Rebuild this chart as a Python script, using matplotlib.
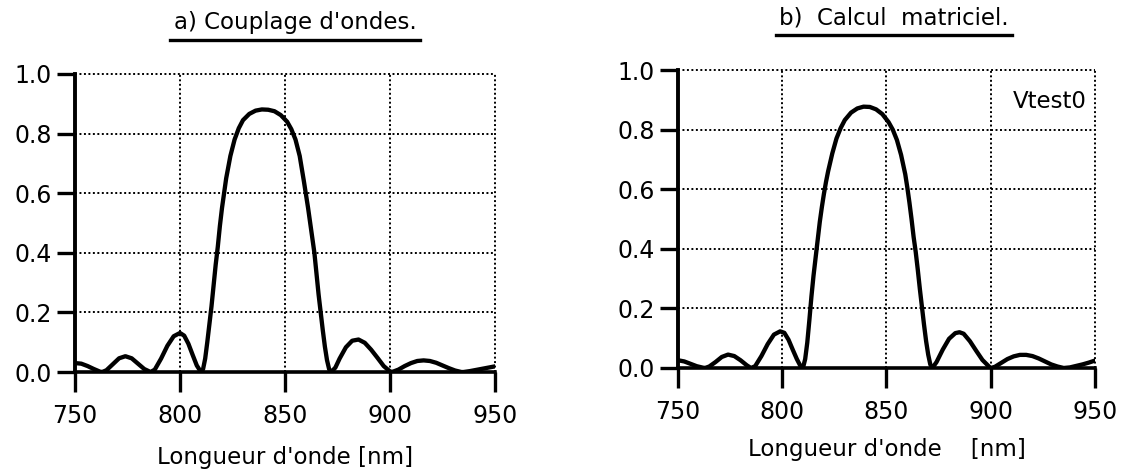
import matplotlib
matplotlib.use('Agg')
import matplotlib.pyplot as plt
from matplotlib.ticker import FormatStrFormatter
from matplotlib.lines import Line2D

plt.rcParams['font.family'] = ['DejaVu Sans']

# a) Couplage d'ondes
lam_a = [750, 753, 756, 759, 762, 763, 765, 768, 771, 774, 777, 780, 783, 786, 788, 791, 794, 797, 800,
         802, 804, 806, 808, 810, 811, 812, 813, 814, 815, 816, 817, 818, 819, 820, 821, 822, 824, 826,
         828, 830, 833, 836, 839, 842, 845, 848, 851, 853, 855, 857, 859, 860, 861, 862, 863, 864, 865,
         866, 867, 868, 869, 870, 871, 872, 874, 876, 879, 882, 885, 888, 891, 894, 897, 900, 901, 904,
         907, 910, 913, 916, 919, 922, 925, 928, 931, 934, 935, 938, 941, 944, 947, 950]
T_a = [0.030, 0.028, 0.020, 0.010, 0.001, 0.000, 0.006, 0.026, 0.046, 0.053, 0.046, 0.028, 0.010, 0.000,
       0.008, 0.045, 0.088, 0.120, 0.131, 0.122, 0.095, 0.058, 0.022, 0.000, 0.010, 0.045, 0.100, 0.160,
       0.220, 0.290, 0.360, 0.420, 0.490, 0.550, 0.600, 0.650, 0.725, 0.780, 0.818, 0.845, 0.866, 0.877,
       0.881, 0.880, 0.875, 0.862, 0.840, 0.815, 0.780, 0.725, 0.640, 0.595, 0.550, 0.500, 0.450, 0.400,
       0.330, 0.260, 0.200, 0.140, 0.085, 0.040, 0.010, 0.000, 0.015, 0.045, 0.083, 0.105, 0.109, 0.098,
       0.075, 0.048, 0.020, 0.002, 0.000, 0.008, 0.020, 0.030, 0.037, 0.039, 0.037, 0.031, 0.022, 0.013,
       0.005, 0.000, 0.000, 0.003, 0.007, 0.011, 0.015, 0.019]

# b) Calcul matriciel
lam_b = [750, 753, 756, 759, 762, 763, 765, 768, 771, 774, 777, 780, 783, 785, 787, 790, 793, 796, 799,
         801, 803, 805, 807, 809, 810, 811, 812, 813, 814, 815, 816, 817, 818, 819, 820, 821, 822, 824,
         826, 828, 830, 833, 836, 839, 842, 845, 848, 851, 853, 855, 857, 859, 860, 861, 862, 863, 864,
         865, 866, 867, 868, 869, 870, 871, 872, 874, 877, 880, 883, 885, 887, 890, 893, 896, 899, 900,
         902, 905, 908, 911, 914, 917, 920, 923, 926, 929, 932, 935, 938, 941, 944, 947, 950]
T_b = [0.026, 0.022, 0.014, 0.006, 0.001, 0.000, 0.005, 0.020, 0.037, 0.045, 0.040, 0.026, 0.009, 0.000,
       0.006, 0.040, 0.080, 0.112, 0.123, 0.118, 0.095, 0.062, 0.030, 0.003, 0.002, 0.030, 0.085, 0.160,
       0.240, 0.310, 0.370, 0.430, 0.490, 0.540, 0.585, 0.625, 0.660, 0.720, 0.770, 0.805, 0.832, 0.857,
       0.871, 0.877, 0.876, 0.868, 0.852, 0.825, 0.800, 0.765, 0.715, 0.650, 0.605, 0.555, 0.500, 0.440,
       0.390, 0.330, 0.265, 0.205, 0.145, 0.090, 0.045, 0.012, 0.000, 0.020, 0.062, 0.098, 0.117, 0.120,
       0.115, 0.090, 0.058, 0.027, 0.006, 0.000, 0.004, 0.017, 0.030, 0.039, 0.044, 0.044, 0.040, 0.032,
       0.022, 0.012, 0.005, 0.000, 0.002, 0.007, 0.012, 0.018, 0.025]

xticks = [750, 800, 850, 900, 950]
yticks = [0.0, 0.2, 0.4, 0.6, 0.8, 1.0]
titles = ["a) Couplage d'ondes.", "b)  Calcul  matriciel."]
xlabels = ["Longueur d'onde [nm]", "Longueur d'onde    [nm]"]

FS = 16.5
fig = plt.figure(figsize=(11.24, 4.73), dpi=100)
ax1 = fig.add_axes([0.0667, 0.2135, 0.3737, 0.6301])
ax2 = fig.add_axes([0.6032, 0.2220, 0.3710, 0.6300])


def style(ax, lam, T, xlab, ylabpad):
    ax.plot(lam, T, color='black', lw=3.1, solid_capstyle='round', zorder=3)
    ax.set_xlim(750, 950)
    ax.set_ylim(0, 1)
    ax.set_xticks(xticks)
    ax.set_yticks(yticks)
    ax.yaxis.set_major_formatter(FormatStrFormatter('%.1f'))
    ax.grid(True, color='black', lw=1.4, linestyle=(0, (1, 1.3)))
    for gl in ax.get_xgridlines() + ax.get_ygridlines():
        gl.set_clip_on(False)
    ax.spines['top'].set_visible(False)
    ax.spines['right'].set_visible(False)
    ax.spines['left'].set_linewidth(2.8)
    ax.spines['bottom'].set_linewidth(2.6)
    ax.tick_params(axis='y', direction='out', length=13, width=2.4, pad=3.5, labelsize=17)
    ax.tick_params(axis='x', direction='out', length=14.5, width=2.4, pad=8.5, labelsize=17)
    ax.set_xlabel(xlab, fontsize=FS, labelpad=ylabpad)


style(ax1, lam_a, T_a, xlabels[0], 13)
style(ax2, lam_b, T_b, xlabels[1], 10)
ax2.text(946, 0.893, 'Vtest0', fontsize=FS, ha='right', va='center')

# titres soulignes
title_pos = [(0.2625, 0.938), (0.7955, 0.948)]
fig.canvas.draw()
r = fig.canvas.get_renderer()
for (tx, ty), s in zip(title_pos, titles):
    t = fig.text(tx, ty, s, fontsize=FS, ha='center', va='baseline')
    bb = t.get_window_extent(r).transformed(fig.transFigure.inverted())
    yl = ty - 0.022
    fig.add_artist(Line2D([bb.x0 - 0.003, bb.x1 + 0.003], [yl, yl], color='black', lw=2.4))

fig.savefig('out.png', dpi=100)
